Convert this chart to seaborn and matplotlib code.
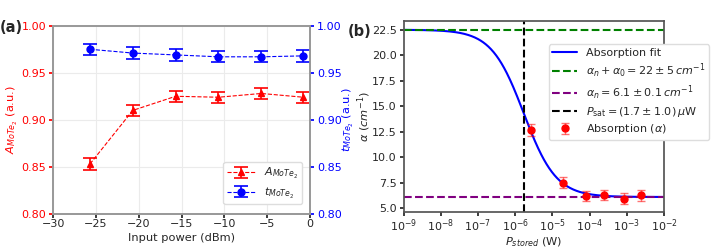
import numpy as np
import pandas as pd
import matplotlib
matplotlib.use("Agg")
import matplotlib.pyplot as plt
import seaborn as sns
from matplotlib.ticker import LogLocator, NullLocator

# panel (a)
input_power = [-25.7, -20.7, -15.7, -10.7, -5.7, -0.8]
a_mote2 = [0.853, 0.910, 0.925, 0.924, 0.928, 0.924]
a_err = [0.006, 0.006, 0.006, 0.006, 0.006, 0.006]
t_mote2 = [0.975, 0.971, 0.969, 0.967, 0.967, 0.968]
t_err = [0.006, 0.006, 0.006, 0.006, 0.006, 0.006]

# panel (b)
p_stored = [2.6e-6, 1.9e-5, 7.9e-5, 2.45e-4, 8.1e-4, 2.45e-3]
alpha = [12.65, 7.5, 6.2, 6.3, 5.95, 6.25]
alpha_err = [0.6, 0.52, 0.5, 0.5, 0.5, 0.5]
alpha_n = 6.1
alpha_0 = 16.4
p_sat = 1.7e-6

sns.set_theme(style="ticks")
plt.rcParams['font.family'] = ['DejaVu Sans']
plt.rcParams['mathtext.fontset'] = 'dejavusans'

fig = plt.figure(figsize=(7.18, 2.48), dpi=100)
ax1 = fig.add_axes([0.074, 0.138, 0.358, 0.758])
ax2 = fig.add_axes([0.562, 0.144, 0.363, 0.773])

df_a = pd.DataFrame({'x': input_power, 'A': a_mote2, 'Aerr': a_err, 't': t_mote2, 'terr': t_err})

ax1.grid(True, color='#ebebeb', linewidth=0.8)
ax1.errorbar(df_a['x'], df_a['A'], yerr=df_a['Aerr'], color='red', marker='^', ms=5,
             ls='--', lw=0.8, capsize=5, elinewidth=1.2, capthick=1.2,
             label=r'$A_{MoTe_2}$')
ax1r = ax1.twinx()
ax1r.errorbar(df_a['x'], df_a['t'], yerr=df_a['terr'], color='blue', marker='o', ms=5,
              ls='--', lw=0.8, capsize=5, elinewidth=1.2, capthick=1.2,
              label=r'$t_{MoTe_2}$')
for ax in (ax1, ax1r):
    ax.set_ylim(0.80, 1.00)
    ax.set_yticks([0.80, 0.85, 0.90, 0.95, 1.00])
    for s in ax.spines.values():
        s.set_color('#999999')
ax1.set_xlim(-30, 0)
ax1.set_xticks([-30, -25, -20, -15, -10, -5, 0])
ax1.tick_params(axis='y', colors='red', labelsize=8, length=3, pad=2)
ax1.tick_params(axis='x', labelsize=8, length=3, pad=0.5)
ax1r.tick_params(axis='y', colors='blue', labelsize=8, length=3, pad=2)
ax1.set_xlabel('Input power (dBm)', fontsize=8.2)
ax1.xaxis.set_label_coords(0.5, -0.1)
ax1.set_ylabel(r'$A_{MoTe_2}$ (a.u.)', color='red', fontsize=8.2)
ax1.yaxis.set_label_coords(-0.13, 0.5)
ax1r.set_ylabel(r'$t_{MoTe_2}$ (a.u.)', color='blue', fontsize=8.2)
ax1r.yaxis.set_label_coords(1.118, 0.5)
h1, l1 = ax1.get_legend_handles_labels()
h2, l2 = ax1r.get_legend_handles_labels()
ax1r.legend(h1 + h2, l1 + l2, loc='lower right', fontsize=8, framealpha=1,
            edgecolor='#dddddd', borderpad=0.35, handlelength=2.5,
            labelspacing=0.4, bbox_to_anchor=(0.99, 0.02))

# panel (b)
p_fit = np.logspace(-9, -2, 400)
df_fit = pd.DataFrame({'P': p_fit, 'alpha': alpha_n + alpha_0 / (1 + p_fit / p_sat)})
sns.lineplot(data=df_fit, x='P', y='alpha', ax=ax2, color='blue', lw=1.5,
             label='Absorption fit')
ax2.axhline(alpha_n + alpha_0, color='green', ls='--', lw=1.5,
            label=r'$\alpha_n + \alpha_0 = 22 \pm 5\,cm^{-1}$')
ax2.axhline(alpha_n, color='purple', ls='--', lw=1.5,
            label=r'$\alpha_n = 6.1 \pm 0.1\,cm^{-1}$')
ax2.axvline(p_sat, color='black', ls='--', lw=1.5,
            label=r'$P_{\rm sat} = (1.7 \pm 1.0)\,\mu$W')
ax2.errorbar(p_stored, alpha, yerr=alpha_err, fmt='o', color='red', ms=5,
             ecolor=(1, 0, 0, 0.55), capsize=3, elinewidth=1, capthick=1,
             label=r'Absorption ($\alpha$)')
ax2.set_xscale('log')
ax2.set_xlim(1e-9, 1e-2)
ax2.xaxis.set_major_locator(LogLocator(base=10, numticks=20))
ax2.xaxis.set_minor_locator(NullLocator())
ax2.set_ylim(4.6, 23.4)
ax2.set_yticks([5.0, 7.5, 10.0, 12.5, 15.0, 17.5, 20.0, 22.5])
ax2.set_yticklabels(['5.0', '7.5', '10.0', '12.5', '15.0', '17.5', '20.0', '22.5'])
ax2.tick_params(axis='y', labelsize=8, length=3, pad=2)
ax2.tick_params(axis='x', labelsize=8, length=3, pad=0.5)
for s in ax2.spines.values():
    s.set_color('#555555')
ax2.set_xlabel(r'$P_{stored}$ (W)', fontsize=8.2)
ax2.xaxis.set_label_coords(0.5, -0.118)
ax2.set_ylabel(r'$\alpha$ $(cm^{-1})$', fontsize=8.2)
ax2.yaxis.set_label_coords(-0.117, 0.5)
ax2.legend(loc='upper left', bbox_to_anchor=(0.535, 0.905), fontsize=8,
           framealpha=1, edgecolor='#dddddd', borderpad=0.35, handlelength=2.2,
           labelspacing=0.3)

fig.text(0.0, 0.89, '(a)', fontsize=10.5, fontweight='bold', va='center')
fig.text(0.484, 0.875, '(b)', fontsize=10.5, fontweight='bold', va='center')

fig.savefig('out.png', dpi=100)
